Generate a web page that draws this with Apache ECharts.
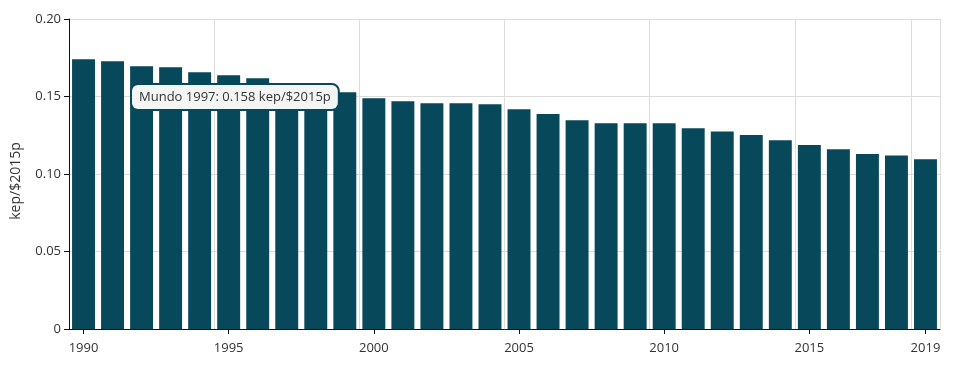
<!DOCTYPE html>
<html>
<head>
<meta charset="utf-8">
<script src="https://cdn.jsdelivr.net/npm/echarts@6/dist/echarts.min.js"></script>
<style>
html,body{margin:0;padding:0;background:#fff;}
#chart{width:953px;height:366px;}
</style>
</head>
<body>
<div id="chart"></div>
<script>
const years = [1990,1991,1992,1993,1994,1995,1996,1997,1998,1999,2000,2001,2002,2003,2004,2005,2006,2007,2008,2009,2010,2011,2012,2013,2014,2015,2016,2017,2018,2019];
const values = [0.174,0.1727,0.1695,0.1688,0.1656,0.1637,0.1617,0.158,0.155,0.1527,0.1488,0.1469,0.1456,0.1456,0.145,0.1417,0.1387,0.1346,0.1327,0.1327,0.1327,0.1295,0.1275,0.1252,0.1217,0.1187,0.1159,0.1129,0.112,0.1095];
const yTicks = [0,0.05,0.10,0.15,0.20];
const seriesName = 'Mundo';
const unit = 'kep/$2015p';
const tipYear = 1997;

const chart = echarts.init(document.getElementById('chart'), null, {renderer:'canvas'});
const font = '"Open Sans", sans-serif';
const showIdx = (i) => (years[i] - years[0]) % 5 === 0 || i === years.length - 1;
const tipIdx = years.indexOf(tipYear);

chart.setOption({
  animation: false,
  grid: {left: 69, right: 13, top: 19, bottom: 37, containLabel: false},
  xAxis: {
    type: 'category',
    data: years.map(String),
    boundaryGap: true,
    axisLine: {show: true, lineStyle: {color: '#111', width: 1}},
    axisTick: {show: true, alignWithLabel: true, length: 5, interval: (i) => showIdx(i), lineStyle: {color: '#111'}},
    axisLabel: {interval: (i) => showIdx(i), color: '#333', fontFamily: font, fontSize: 13, margin: 13},
    splitLine: {show: true, interval: (i) => i > 0 && showIdx(i), lineStyle: {color: '#dcdcdc', width: 1}}
  },
  yAxis: {
    type: 'value',
    min: yTicks[0],
    max: yTicks[yTicks.length - 1],
    interval: 0.05,
    name: unit,
    nameLocation: 'middle',
    nameGap: 46,
    nameTextStyle: {color: '#333', fontFamily: font, fontSize: 14, padding: [0, 14, 0, 0]},
    axisLine: {show: true, lineStyle: {color: '#111', width: 1}},
    axisTick: {show: true, length: 5, lineStyle: {color: '#111'}},
    axisLabel: {color: '#333', fontFamily: font, fontSize: 13, margin: 8,
      formatter: (v) => v === 0 ? '0' : v.toFixed(2)},
    splitLine: {show: true, lineStyle: {color: '#dcdcdc', width: 1}}
  },
  series: [{
    name: seriesName,
    type: 'bar',
    data: values,
    barCategoryGap: '21%',
    itemStyle: {color: '#07485a'}
  }],
  graphic: [{
    type: 'text',
    left: 130,
    top: 83,
    z: 100,
    style: {
      text: seriesName + ' ' + tipYear + ': ' + values[tipIdx].toFixed(3) + ' ' + unit,
      fill: '#333',
      font: '13px "Open Sans", sans-serif',
      backgroundColor: '#f4f5f5',
      borderColor: '#07485a',
      borderWidth: 2,
      borderRadius: 6,
      padding: [6, 7, 5, 7]
    }
  }]
});
</script>
</body>
</html>
